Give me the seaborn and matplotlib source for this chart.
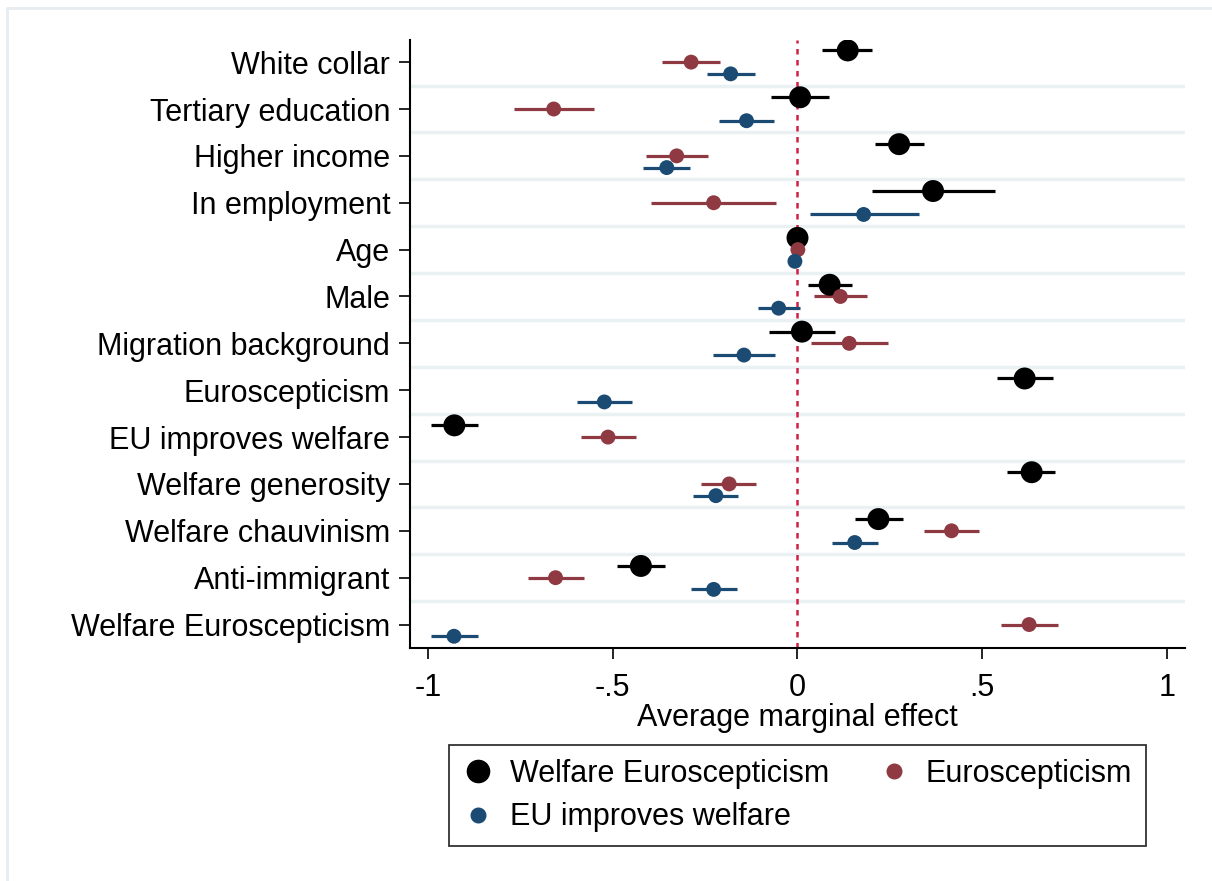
import numpy as np
import pandas as pd
import seaborn as sns
import matplotlib.pyplot as plt
from matplotlib.lines import Line2D

nan = np.nan

categories = ["White collar", "Tertiary education", "Higher income", "In employment",
              "Age", "Male", "Migration background", "Euroscepticism",
              "EU improves welfare", "Welfare generosity", "Welfare chauvinism",
              "Anti-immigrant", "Welfare Euroscepticism"]

# Welfare Euroscepticism (black)
we_est = [0.136, 0.007, 0.275, 0.367, 0.000, 0.087, 0.012, 0.615, -0.929, 0.634, 0.219, -0.424, nan]
we_lo = [0.066, -0.072, 0.210, 0.201, -0.005, 0.028, -0.076, 0.541, -0.991, 0.567, 0.155, -0.489, nan]
we_hi = [0.203, 0.086, 0.342, 0.536, 0.005, 0.148, 0.102, 0.692, -0.866, 0.696, 0.285, -0.358, nan]

# Euroscepticism (red)
eu_est = [-0.288, -0.660, -0.327, -0.227, 0.001, 0.116, 0.140, nan, -0.513, -0.185, 0.417, -0.655, 0.627]
eu_lo = [-0.367, -0.767, -0.410, -0.396, -0.003, 0.046, 0.037, nan, -0.587, -0.260, 0.343, -0.729, 0.551]
eu_hi = [-0.209, -0.552, -0.242, -0.057, 0.005, 0.188, 0.245, nan, -0.437, -0.113, 0.491, -0.579, 0.705]

# EU improves welfare (blue)
iw_est = [-0.181, -0.138, -0.354, 0.179, -0.007, -0.051, -0.145, -0.523, nan, -0.221, 0.155, -0.227, -0.930]
iw_lo = [-0.245, -0.212, -0.417, 0.033, -0.010, -0.107, -0.230, -0.598, nan, -0.282, 0.094, -0.289, -0.991]
iw_hi = [-0.116, -0.064, -0.291, 0.328, -0.004, 0.007, -0.061, -0.447, nan, -0.162, 0.219, -0.165, -0.866]

series_names = ["Welfare Euroscepticism", "Euroscepticism", "EU improves welfare"]

frames = []
for name, est, lo, hi in zip(series_names, [we_est, eu_est, iw_est],
                             [we_lo, eu_lo, iw_lo], [we_hi, eu_hi, iw_hi]):
    frames.append(pd.DataFrame({"variable": categories, "series": name,
                                "est": est, "lo": lo, "hi": hi}))
df = pd.concat(frames, ignore_index=True).dropna()

sns.set_style("white")
plt.rcParams['font.family'] = ['Liberation Sans', 'DejaVu Sans']
plt.rcParams['text.color'] = 'black'
plt.rcParams['axes.labelcolor'] = 'black'
plt.rcParams['xtick.color'] = 'black'
plt.rcParams['ytick.color'] = 'black'

colors = {"Welfare Euroscepticism": "#000000", "Euroscepticism": "#8f3943",
          "EU improves welfare": "#1b4a72"}
offsets = {"Welfare Euroscepticism": -0.25, "Euroscepticism": 0.0,
           "EU improves welfare": 0.25}
sizes = {"Welfare Euroscepticism": 250, "Euroscepticism": 115,
         "EU improves welfare": 115}
fs = 22

fig = plt.figure(figsize=(12.12, 8.81), dpi=100)
ax = fig.add_axes([0.338, 0.2645, 0.640, 0.6905])

df["pos"] = df["variable"].map({c: i for i, c in enumerate(categories)}) + df["series"].map(offsets)

for k in range(len(categories) - 1):
    ax.axhline(k + 0.5, color="#eaf1f3", lw=2.5, zorder=0)

ax.axvline(0, color="#d21f45", lw=1.8, ls=(0, (2.2, 2.2)), zorder=1)

for name in series_names:
    d = df[df["series"] == name]
    ax.hlines(d["pos"], d["lo"], d["hi"], color=colors[name], lw=2.3, zorder=2)
    sns.scatterplot(data=d, x="est", y="pos", color=colors[name], s=sizes[name],
                    edgecolor="none", zorder=3, ax=ax, legend=False)

ax.set_xlim(-1.05, 1.05)
ax.set_ylim(12.5, -0.48)
ax.set_yticks(range(len(categories)))
ax.set_yticklabels(categories)
ax.set_xticks([-1, -0.5, 0, 0.5, 1])
ax.set_xticklabels(["-1", "-.5", "0", ".5", "1"])
ax.set_xlabel("Average marginal effect", fontsize=fs, labelpad=0, color="black")
ax.set_ylabel("")
ax.tick_params(axis="both", labelsize=fs, length=8, width=1.2, direction="out",
               color="black", labelcolor="black", left=True, bottom=True)
ax.tick_params(axis="y", pad=6)
ax.tick_params(axis="x", pad=10)
sns.despine(ax=ax)
for s in ["left", "bottom"]:
    ax.spines[s].set_color("black")
    ax.spines[s].set_linewidth(1.5)

handles = [
    Line2D([], [], ls="none", marker="o", color=colors["Welfare Euroscepticism"], markersize=16),
    Line2D([], [], ls="none", marker="o", color=colors["EU improves welfare"], markersize=10.5),
    Line2D([], [], ls="none", marker="o", color=colors["Euroscepticism"], markersize=10.5),
]
labels = ["Welfare Euroscepticism", "EU improves welfare", "Euroscepticism"]
leg = fig.legend(handles, labels, ncol=2, loc="upper center",
                 bbox_to_anchor=(0.658, 0.1544), fontsize=fs, frameon=True,
                 fancybox=False, edgecolor="black", handlelength=1.0,
                 handletextpad=0.55, columnspacing=1.6, labelspacing=0.45,
                 borderpad=0.45, borderaxespad=0)
leg.get_frame().set_linewidth(1.3)
for t in leg.get_texts():
    t.set_color("black")

# light outer frame
fig.add_artist(Line2D([7 / 1212, 1], [1 - 8 / 881, 1 - 8 / 881], transform=fig.transFigure,
                      color="#e6edf1", lw=2))
fig.add_artist(Line2D([7 / 1212, 7 / 1212], [0, 1 - 8 / 881], transform=fig.transFigure,
                      color="#e6edf1", lw=2))

fig.savefig("out.png", dpi=100, facecolor="white")
